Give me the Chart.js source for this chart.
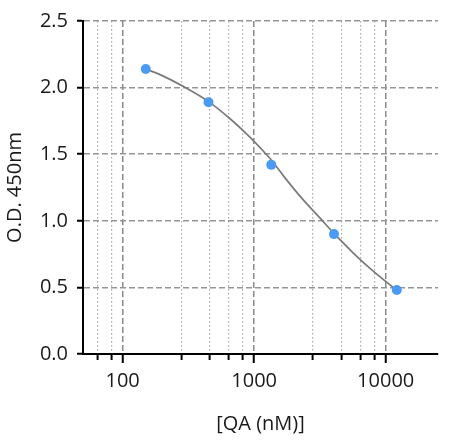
<!DOCTYPE html>
<html>
<head>
<meta charset="utf-8">
<script src="https://cdn.jsdelivr.net/npm/chart.js@4.4.1/dist/chart.umd.min.js"></script>
<style>
  html, body { margin: 0; padding: 0; background: #fff; }
  #wrap { width: 456px; height: 441px; position: relative; }
</style>
</head>
<body>
<div id="wrap"><canvas id="c"></canvas></div>
<script>
// ---- data ----
const concentrations = [150, 450, 1350, 4050, 12150];      // [QA (nM)]
const odValues       = [2.14, 1.89, 1.42, 0.90, 0.48];      // O.D. 450nm

// fitted curve
const curveX = [150, 200, 300, 450, 650, 900, 1200, 1350, 1700, 2300, 3200, 4050, 5700, 8000, 12150];
const curveY = [2.14, 2.09, 2.00, 1.895, 1.77, 1.641, 1.513, 1.457, 1.328, 1.17, 1.016, 0.905, 0.756, 0.624, 0.478];

const xTickValues   = [64, 82, 100, 280, 460, 640, 820, 1000, 2800, 4600, 6400, 8200, 10000];
const xLabeledTicks = [100, 1000, 10000];
const yTickValues   = [0, 0.5, 1.0, 1.5, 2.0, 2.5];

const xLabel = '[QA (nM)]';
const yLabel = 'O.D. 450nm';

function draw() {
  const FONT = "'Open Sans', 'Noto Sans', sans-serif";
  const isMajorX = (ctx) => ctx && ctx.tick && xLabeledTicks.includes(ctx.tick.value);

  new Chart(document.getElementById('c'), {
    type: 'scatter',
    data: {
      datasets: [
        {
          label: 'fit',
          data: curveX.map((x, i) => ({ x: x, y: curveY[i] })),
          showLine: true,
          borderColor: '#7a7a7a',
          borderWidth: 1.7,
          pointRadius: 0,
          cubicInterpolationMode: 'monotone',
          order: 2
        },
        {
          label: 'data',
          data: concentrations.map((x, i) => ({ x: x, y: odValues[i] })),
          showLine: false,
          backgroundColor: '#4b9bf5',
          borderColor: '#4b9bf5',
          pointRadius: 5,
          pointBorderWidth: 0,
          order: 1
        }
      ]
    },
    options: {
      responsive: true,
      maintainAspectRatio: false,
      animation: false,
      layout: { padding: { top: 16, right: 18, bottom: 0, left: 0 } },
      plugins: { legend: { display: false }, tooltip: { enabled: false } },
      scales: {
        x: {
          type: 'logarithmic',
          min: 50,
          max: 25000,
          afterBuildTicks: (scale) => {
            scale.ticks = xTickValues.map(v => ({ value: v }));
          },
          afterFit: (scale) => { scale.height = 87; },
          ticks: {
            autoSkip: false,
            maxRotation: 0,
            padding: 6,
            color: '#1a1a1a',
            font: { family: FONT, size: 20 },
            callback: (v) => xLabeledTicks.includes(v) ? String(v) : ''
          },
          grid: {
            color: (ctx) => isMajorX(ctx) ? '#8a8a8a' : '#a8a8a8',
            lineWidth: (ctx) => isMajorX(ctx) ? 1.5 : 1.2,
            tickColor: '#000',
            tickWidth: 2,
            tickLength: 9,
            tickBorderDash: (ctx) => isMajorX(ctx) ? [] : [5, 40]
          },
          border: {
            display: true,
            color: '#000',
            width: 2,
            z: 1,
            dash: (ctx) => ctx && ctx.tick ? (isMajorX(ctx) ? [6, 3] : [1.5, 2.5]) : []
          },
          title: {
            display: true,
            text: xLabel,
            color: '#1a1a1a',
            font: { family: FONT, size: 20 },
            padding: { top: 0, bottom: 5 }
          }
        },
        y: {
          type: 'linear',
          min: 0,
          max: 2.5,
          afterBuildTicks: (scale) => {
            scale.ticks = yTickValues.map(v => ({ value: v }));
          },
          afterFit: (scale) => { scale.width = 83; },
          ticks: {
            padding: 9,
            color: '#1a1a1a',
            font: { family: FONT, size: 20 },
            callback: (v) => Number(v).toFixed(1)
          },
          grid: {
            color: '#959595',
            lineWidth: 1.5,
            tickColor: '#000',
            tickWidth: 2,
            tickLength: 6,
            tickBorderDash: []
          },
          border: {
            display: true,
            color: '#000',
            width: 2,
            z: 1,
            dash: (ctx) => ctx && ctx.tick ? [6, 3] : []
          },
          title: {
            display: true,
            text: yLabel,
            color: '#1a1a1a',
            font: { family: FONT, size: 20 },
            padding: { top: 3, bottom: 0 }
          }
        }
      }
    }
  });
}

if (document.fonts && document.fonts.load) {
  document.fonts.load("20px 'Open Sans'").then(draw, draw);
} else {
  draw();
}
</script>
</body>
</html>
